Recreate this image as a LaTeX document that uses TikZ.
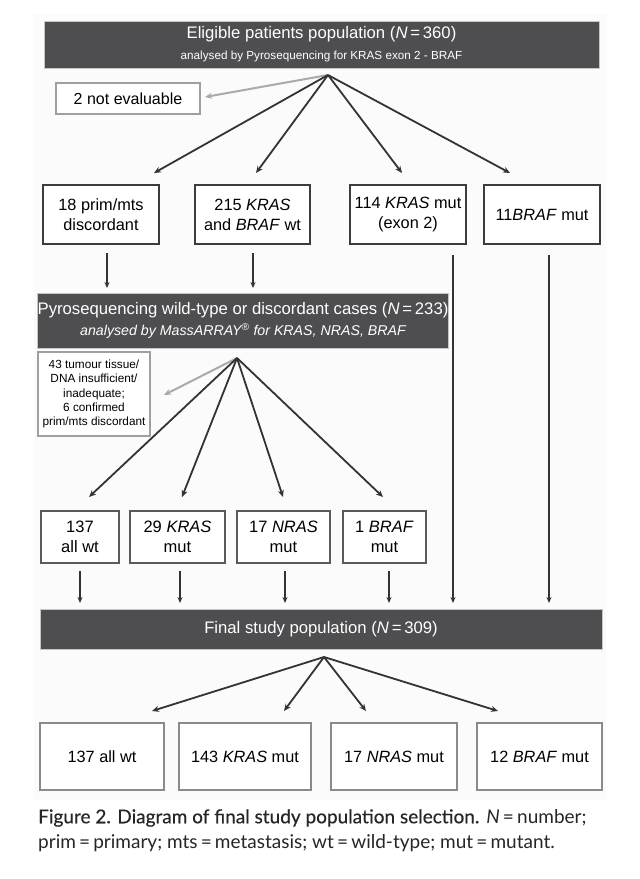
\documentclass[tikz,border=0pt]{standalone}
\usepackage{fontspec}
\setmainfont{Liberation Sans}
\newfontfamily\capfont{Lato}
\newfontfamily\capmed{Lato}[FakeBold=0.4]
\usetikzlibrary{arrows.meta}
\definecolor{darkbox}{HTML}{4E4E50}
\definecolor{panelc}{HTML}{FBFBFB}
\definecolor{arrowc}{HTML}{333333}
\definecolor{greyarr}{HTML}{AAAAAA}
\definecolor{edgeA}{HTML}{3C3C3C}
\definecolor{edgeB}{HTML}{5A5A5A}
\definecolor{edgeC}{HTML}{8A8A8A}
\definecolor{edgeD}{HTML}{A0A0A0}
\begin{document}
\begin{tikzpicture}[x=1pt,y=-1pt,
  darkhead/.style={draw=gray!45, line width=1pt, fill=darkbox, text=white, inner sep=0pt, align=center},
  rowone/.style={draw=edgeA, line width=2pt, fill=white, inner sep=0pt, align=center, font=\fontsize{16.3}{20}\selectfont},
  rowtwo/.style={draw=edgeB, line width=1.6pt, fill=white, inner sep=0pt, align=center, font=\fontsize{16.5}{20}\selectfont},
  rowfin/.style={draw=edgeC, line width=1.6pt, fill=white, inner sep=0pt, align=center, font=\fontsize{16.3}{20}\selectfont},
  greybox/.style={draw=edgeD, line width=2pt, fill=white, inner sep=0pt, align=center},
  fanarr/.style={draw=arrowc, line width=1.8pt, -{Stealth[length=7pt,width=6pt]}},
  downarr/.style={draw=arrowc, line width=1.3pt, -{Stealth[length=6pt,width=5pt]}},
  greyarrow/.style={draw=greyarr, line width=2pt, -{Stealth[length=7pt,width=6pt]}}
]
\useasboundingbox (0,0) rectangle (640,879);
\fill[white] (0,0) rectangle (640,879);
\fill[panelc] (34,14) rectangle (606,800);

% top header
\node[darkhead, minimum width=555pt, minimum height=47pt, font=\fontsize{12}{21}\selectfont] (top) at (321.5,44.5)
  {{\fontsize{16.7}{21}\selectfont Eligible patients population (\textit{N}\,=\,360)}\\
   {\fontsize{11.7}{21}\selectfont analysed by Pyrosequencing for KRAS exon 2 - BRAF}};
\node[greybox, minimum width=144pt, minimum height=31pt, font=\fontsize{16}{19}\selectfont] (ne) at (128,98.5) {2 not evaluable};

% row one
\node[rowone, minimum width=116pt, minimum height=59pt] (a1) at (101,214.5) {18 prim/mts\\discordant};
\node[rowone, minimum width=115pt, minimum height=59pt] (a2) at (252.5,214.5) {215 \textit{KRAS}\\and \textit{BRAF} wt};
\node[rowone, minimum width=116pt, minimum height=59pt] (a3) at (408,214.5) {114 \textit{KRAS} mut\\(exon 2)};
\node[rowone, minimum width=116pt, minimum height=59pt] (a4) at (542,214.5) {11\textit{BRAF} mut};

% second header
\node[darkhead, minimum width=410pt, minimum height=55pt, font=\fontsize{14}{21.5}\selectfont] (pyro) at (243,320.5)
  {{\fontsize{16.7}{21.5}\selectfont Pyrosequencing wild-type or discordant cases (\textit{N}\,=\,233)}\\
   {\fontsize{14.2}{21.5}\selectfont\itshape analysed by MassARRAY\textsuperscript{®} for KRAS, NRAS, BRAF}};
\node[greybox, line width=1.8pt, minimum width=112pt, minimum height=84pt, font=\fontsize{11.8}{14.3}\selectfont] (note) at (94,394)
  {43 tumour tissue/\\DNA insufficient/\\inadequate;\\6 confirmed\\prim/mts discordant};

% row two
\node[rowtwo, minimum width=78pt, minimum height=52pt] (b1) at (80,537) {137\\all wt};
\node[rowtwo, minimum width=95pt, minimum height=52pt] (b2) at (177.5,537) {29 \textit{KRAS}\\mut};
\node[rowtwo, minimum width=93pt, minimum height=52pt] (b3) at (283.5,537) {17 \textit{NRAS}\\mut};
\node[rowtwo, minimum width=83pt, minimum height=52pt] (b4) at (384.5,537) {1 \textit{BRAF}\\mut};

% final header
\node[darkhead, minimum width=562pt, minimum height=40pt, font=\fontsize{16.7}{20}\selectfont] (fin) at (321,629)
  {Final study population (\textit{N}\,=\,309)};

% bottom row
\node[rowfin, minimum width=124pt, minimum height=67pt] (c1) at (102,756.5) {137 all wt};
\node[rowfin, minimum width=132pt, minimum height=67pt] (c2) at (245,756.5) {143 \textit{KRAS} mut};
\node[rowfin, minimum width=126pt, minimum height=67pt] (c3) at (394,756.5) {17 \textit{NRAS} mut};
\node[rowfin, minimum width=125pt, minimum height=67pt] (c4) at (539.5,756.5) {12 \textit{BRAF} mut};

% coordinates
\coordinate (p1) at (328,75);
\coordinate (t1) at (154,173);
\coordinate (t2) at (256,173);
\coordinate (t3) at (402,173);
\coordinate (t4) at (510,173);
\coordinate (g1) at (205,97);
\coordinate (d1s) at (107,253);
\coordinate (d1e) at (107,288);
\coordinate (d2s) at (253,253);
\coordinate (d2e) at (253,288);
\coordinate (l1s) at (453,255);
\coordinate (l1e) at (453,603);
\coordinate (l2s) at (549,255);
\coordinate (l2e) at (549,603);
\coordinate (p2) at (237,358);
\coordinate (u1) at (89,497);
\coordinate (u2) at (182,497);
\coordinate (u3) at (283,497);
\coordinate (u4) at (383,497);
\coordinate (g2) at (164,395);
\coordinate (e1s) at (80,571);
\coordinate (e1e) at (80,603);
\coordinate (e2s) at (180,571);
\coordinate (e2e) at (180,603);
\coordinate (e3s) at (285,571);
\coordinate (e3e) at (285,603);
\coordinate (e4s) at (389,571);
\coordinate (e4e) at (389,603);
\coordinate (p3) at (324,657);
\coordinate (v1) at (152,711);
\coordinate (v2) at (284,711);
\coordinate (v3) at (366,711);
\coordinate (v4) at (498,711);

% connectors
\draw[greyarrow] (p1) -- (g1);
\foreach \t in {t1,t2,t3,t4} \draw[fanarr] (p1) -- (\t);
\draw[downarr] (d1s) -- (d1e);
\draw[downarr] (d2s) -- (d2e);
\draw[downarr] (l1s) -- (l1e);
\draw[downarr] (l2s) -- (l2e);
\draw[greyarrow] (p2) -- (g2);
\foreach \t in {u1,u2,u3,u4} \draw[fanarr] (p2) -- (\t);
\draw[downarr] (e1s) -- (e1e);
\draw[downarr] (e2s) -- (e2e);
\draw[downarr] (e3s) -- (e3e);
\draw[downarr] (e4s) -- (e4e);
\foreach \t in {v1,v2,v3,v4} \draw[fanarr] (p3) -- (\t);

% caption
\node[anchor=west, inner sep=0pt, text=black!85, font=\fontsize{19}{22}\selectfont] (cap1) at (38,818)
  {{\capmed Figure 2. Diagram of final study population selection.} {\capfont\textit{N}\,=\,number;}};
\node[anchor=west, inner sep=0pt, text=black!85, font=\fontsize{19}{22}\selectfont] (cap2) at (38,843)
  {\capfont prim\,=\,primary; mts\,=\,metastasis; wt\,=\,wild-type; mut\,=\,mutant.};
\end{tikzpicture}
\end{document}
